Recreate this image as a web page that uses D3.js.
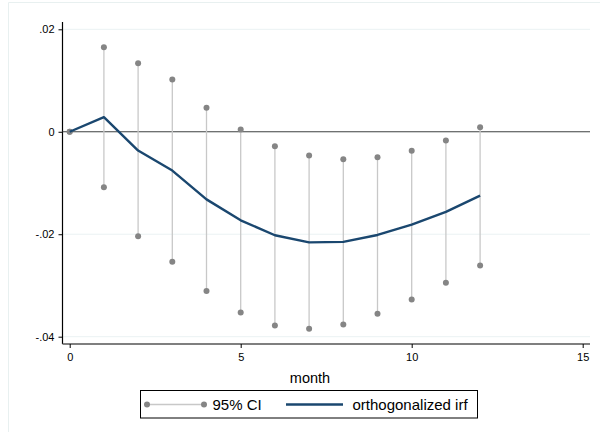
<!DOCTYPE html>
<html>
<head>
<meta charset="utf-8">
<script src="https://cdn.jsdelivr.net/npm/d3@7"></script>
<style>
  body { margin: 0; background: #fff; }
  svg { display: block; font-family: "Liberation Sans", Arial, sans-serif; }
</style>
</head>
<body>
<div id="canvas"></div>
<script>
// months of the impulse response
const months = [0, 1, 2, 3, 4, 5, 6, 7, 8, 9, 10, 11, 12];
// orthogonalized irf
const irf = [0, 0.00285, -0.00366, -0.00757, -0.0132, -0.01728, -0.0202, -0.02158, -0.02150, -0.02014, -0.01812, -0.01562, -0.01245];
// 95% CI bounds
const ciLower = [0, -0.01083, -0.0204, -0.02536, -0.0311, -0.03526, -0.0378, -0.03845, -0.03761, -0.03552, -0.03272, -0.02946, -0.02608];
const ciUpper = [0, 0.01648, 0.01335, 0.01022, 0.00469, 0.00045, -0.00281, -0.00463, -0.00535, -0.00496, -0.00372, -0.0017, 0.0009];
const xTicks = [0, 5, 10, 15];
const yTicks = [0.02, 0, -0.02, -0.04];
const yTickLabels = [".02", "0", "-.02", "-.04"];

const width = 600, height = 432;
const svg = d3.select('#canvas').append('svg')
    .attr('width', width)
    .attr('height', height);

// faint outer frame
svg.append('path')
    .attr('d', 'M 8.5 432 L 8.5 2.5 L 600 2.5')
    .attr('fill', 'none')
    .attr('stroke', '#e8f0f0')
    .attr('stroke-width', 1);

const x = d3.scaleLinear().domain([0, 15]).range([69.7, 582.7]);
const y = d3.scaleLinear().domain([0.02, -0.04]).range([29.3, 336.7]);

const axisLeft = 62.5, plotRight = 590, axisBottom = 344;

// gridlines
svg.append('g').selectAll('line')
    .data(yTicks)
    .enter().append('line')
    .attr('x1', axisLeft).attr('x2', plotRight)
    .attr('y1', d => y(d)).attr('y2', d => y(d))
    .attr('stroke', '#eaf2f3')
    .attr('stroke-width', 1);

// y axis
const yAxis = svg.append('g')
    .attr('transform', 'translate(' + axisLeft + ',0)')
    .call(d3.axisLeft(y).tickValues(yTicks).tickSize(4).tickPadding(4)
        .tickFormat((d, i) => yTickLabels[i]));
yAxis.select('.domain').attr('d', 'M0,' + 22 + 'V' + axisBottom).attr('stroke', '#000').attr('stroke-width', 1.2);
yAxis.selectAll('.tick line').attr('stroke', '#000');
yAxis.selectAll('text').attr('font-size', 11).attr('fill', '#000')
    .attr('font-family', '"Liberation Sans", Arial, sans-serif');

// x axis
const xAxis = svg.append('g')
    .attr('transform', 'translate(0,' + axisBottom + ')')
    .call(d3.axisBottom(x).tickValues(xTicks).tickSize(4).tickPadding(5));
xAxis.select('.domain').attr('d', 'M' + axisLeft + ',0H' + plotRight).attr('stroke', '#555').attr('stroke-width', 1.5);
xAxis.selectAll('.tick line').attr('stroke', '#000');
xAxis.selectAll('text').attr('font-size', 11).attr('fill', '#000')
    .attr('font-family', '"Liberation Sans", Arial, sans-serif');

svg.append('text')
    .attr('x', 310).attr('y', 383)
    .attr('text-anchor', 'middle')
    .attr('font-size', 14.5)
    .text('month');

// zero line
svg.append('line')
    .attr('x1', axisLeft).attr('x2', plotRight)
    .attr('y1', y(0)).attr('y2', y(0))
    .attr('stroke', '#444')
    .attr('stroke-width', 1.2);

// CI spikes
const ci = months.map((m, i) => ({ m: m, lo: ciLower[i], hi: ciUpper[i] }));
svg.append('g').selectAll('line')
    .data(ci)
    .enter().append('line')
    .attr('x1', d => x(d.m)).attr('x2', d => x(d.m))
    .attr('y1', d => y(d.hi)).attr('y2', d => y(d.lo))
    .attr('stroke', '#c8c8c8')
    .attr('stroke-width', 1.3);

const dots = [];
ci.forEach(d => { dots.push({ m: d.m, v: d.hi }); dots.push({ m: d.m, v: d.lo }); });
svg.append('g').selectAll('circle')
    .data(dots)
    .enter().append('circle')
    .attr('cx', d => x(d.m))
    .attr('cy', d => y(d.v))
    .attr('r', 3)
    .attr('fill', '#858585');

// irf line
const line = d3.line()
    .x((d, i) => x(months[i]))
    .y(d => y(d));
svg.append('path')
    .datum(irf)
    .attr('d', line)
    .attr('fill', 'none')
    .attr('stroke', '#1a476f')
    .attr('stroke-width', 2.4)
    .attr('stroke-linejoin', 'round');

// legend
const legend = svg.append('g');
legend.append('rect')
    .attr('x', 140.5).attr('y', 390.5)
    .attr('width', 337).attr('height', 27.5)
    .attr('fill', '#fff')
    .attr('stroke', '#000')
    .attr('stroke-width', 1);
legend.append('line')
    .attr('x1', 147).attr('x2', 204)
    .attr('y1', 404.5).attr('y2', 404.5)
    .attr('stroke', '#c8c8c8').attr('stroke-width', 1.3);
legend.selectAll('circle')
    .data([147, 204])
    .enter().append('circle')
    .attr('cx', d => d).attr('cy', 404.5).attr('r', 3)
    .attr('fill', '#858585');
legend.append('text')
    .attr('x', 212.5).attr('y', 410)
    .attr('font-size', 15)
    .text('95% CI');
legend.append('line')
    .attr('x1', 286).attr('x2', 343)
    .attr('y1', 404.5).attr('y2', 404.5)
    .attr('stroke', '#1a476f').attr('stroke-width', 2.4);
legend.append('text')
    .attr('x', 352.5).attr('y', 410)
    .attr('font-size', 15)
    .text('orthogonalized irf');
</script>
</body>
</html>
